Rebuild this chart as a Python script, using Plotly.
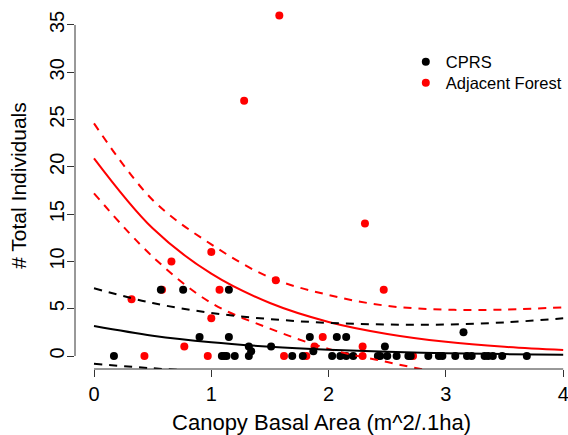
import plotly.graph_objects as go

# ---- data ----
cprs_x = [0.17, 0.57, 0.76, 0.90, 1.09, 1.11, 1.13, 1.15, 1.15, 1.20, 1.32, 1.34, 1.32, 1.51,
          1.69, 1.78, 1.84, 1.87, 2.03, 2.07, 2.10, 2.15, 2.15, 2.21, 2.42, 2.44, 2.48, 2.50,
          2.58, 2.68, 2.70, 2.85, 2.94, 2.97, 3.08, 3.15, 3.18, 3.22, 3.33, 3.36, 3.40, 3.48, 3.69]
cprs_y = [0, 7, 7, 2, 0, 0, 0, 7, 2, 0, 1, 0.5, 0, 1,
          0, 0, 2, 0.5, 0, 2, 0, 2, 0, 0, 0, 0, 1, 0,
          0, 0, 0, 0, 0, 0, 0, 2.5, 0, 0, 0, 0, 0, 0, 0]

adj_x = [0.32, 0.43, 0.58, 0.66, 0.77, 0.97, 1.00, 1.00, 1.07, 1.28, 1.55, 1.58, 1.62, 1.81,
         1.88, 1.95, 2.29, 2.29, 2.31, 2.47, 2.72]
adj_y = [6, 0, 7, 10, 1, 0, 4, 11, 7, 27, 8, 36, 0, 0,
         1, 2, 1, 0, 14, 7, 0]

curve_x = [0, 0.5, 1, 1.5, 2, 2.5, 3, 3.5, 4]
adj_fit = [20.9, 13.5, 8.7, 5.6, 3.6, 2.33, 1.5, 0.97, 0.63]
adj_upper = [24.6, 16.5, 11.8, 8.3, 6.45, 5.3, 4.9, 4.9, 5.15]
adj_lower = [17.2, 10.5, 5.6, 2.9, 0.75, -0.64, -1.9, -2.96, -3.89]
cprs_fit = [3.17, 2.15, 1.45, 0.98, 0.66, 0.45, 0.30, 0.20, 0.14]
cprs_upper = [7.16, 5.6, 4.55, 3.9, 3.5, 3.33, 3.33, 3.55, 3.98]
cprs_lower = [-0.82, -1.3, -1.65, -1.94, -2.18, -2.43, -2.73, -3.15, -3.7]

x_ticks = [0, 1, 2, 3, 4]
y_ticks = [0, 5, 10, 15, 20, 25, 30, 35]

RED = "#FF0000"
BLACK = "#000000"
FONT = "Liberation Sans, Arial, Helvetica, sans-serif"

fig = go.Figure()

fig.add_trace(go.Scatter(x=adj_x, y=adj_y, mode="markers", name="Adjacent Forest",
                         legend="legend2",
                         marker=dict(color=RED, size=8, line=dict(width=0))))
fig.add_trace(go.Scatter(x=cprs_x, y=cprs_y, mode="markers", name="CPRS",
                         legend="legend",
                         marker=dict(color=BLACK, size=8, line=dict(width=0))))

for ys, col, dash in [(adj_fit, RED, "solid"), (adj_upper, RED, "8px,7px"), (adj_lower, RED, "8px,7px"),
                      (cprs_fit, BLACK, "solid"), (cprs_upper, BLACK, "8px,7px"), (cprs_lower, BLACK, "8px,7px")]:
    fig.add_trace(go.Scatter(x=curve_x, y=ys, mode="lines", showlegend=False, hoverinfo="skip",
                             line=dict(color=col, width=2, dash=dash, shape="spline")))

axis_col = "#333333"
# R-style axis lines spanning only the tick range
fig.add_shape(type="line", xref="x", yref="paper", x0=min(x_ticks), x1=max(x_ticks), y0=0, y1=0,
              line=dict(color=axis_col, width=1))
fig.add_shape(type="line", xref="paper", yref="y", x0=0, x1=0, y0=min(y_ticks), y1=max(y_ticks),
              line=dict(color=axis_col, width=1))

leg_common = dict(xanchor="left", yanchor="top", font=dict(size=16.5, family=FONT),
                  bgcolor="rgba(0,0,0,0)", itemsizing="trace")

fig.update_layout(
    width=568, height=435,
    margin=dict(l=75, r=0, t=2, b=66, autoexpand=False),
    paper_bgcolor="white", plot_bgcolor="white",
    font=dict(family=FONT, color="black", size=20),
    showlegend=True,
    legend=dict(x=0.671, y=0.884, **leg_common),
    legend2=dict(x=0.671, y=0.827, **leg_common),
    xaxis=dict(range=[-0.162, 4.041], tickvals=x_ticks, ticktext=[str(v) for v in x_ticks],
               ticks="outside", ticklen=7, tickcolor=axis_col, showline=False, showgrid=False,
               zeroline=False, tickfont=dict(size=20), automargin=False,
               ticklabeloverflow="allow",
               title=dict(text="Canopy Basal Area (m^2/.1ha)", font=dict(size=22), standoff=16)),
    yaxis=dict(range=[-1.375, 37.43], tickvals=y_ticks, ticktext=[str(v) for v in y_ticks],
               ticks="outside", ticklen=7, tickcolor=axis_col, showline=False, showgrid=False,
               zeroline=False, tickangle=-90, tickfont=dict(size=20), automargin=False,
               ticklabelstandoff=-5,
               title=dict(text="# Total Individuals", font=dict(size=21), standoff=13)),
)

fig.write_html("out.html", config={"displayModeBar": False},
               post_script="document.body.style.margin='0px';")
